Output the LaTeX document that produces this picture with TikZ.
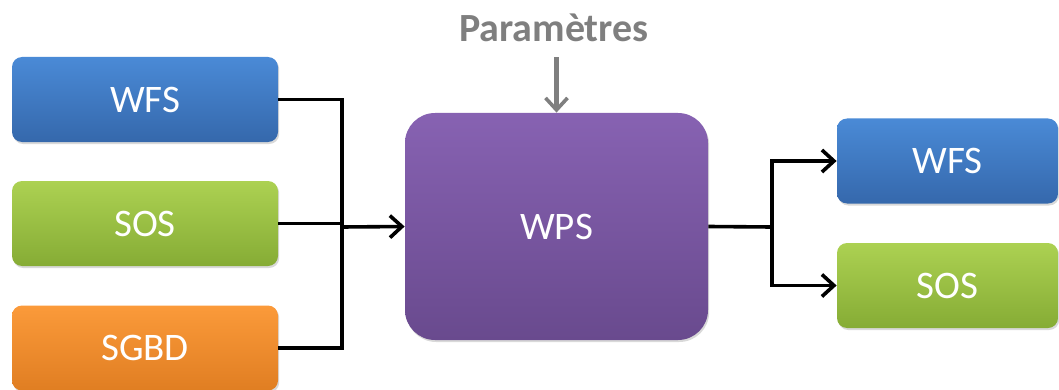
\documentclass[tikz,border=0pt]{standalone}
\usepackage{fontspec}
\setmainfont{Carlito}
\usepackage{tikz}
\usetikzlibrary{arrows.meta,shadows}
\definecolor{wfstop}{HTML}{4A8AD6}
\definecolor{wfsbot}{HTML}{3568AC}
\definecolor{sostop}{HTML}{ACD152}
\definecolor{sosbot}{HTML}{86AC35}
\definecolor{dbtop}{HTML}{FB9A3A}
\definecolor{dbbot}{HTML}{E07E22}
\definecolor{wpstop}{HTML}{8762B2}
\definecolor{wpsbot}{HTML}{694A8E}
\definecolor{paramgray}{HTML}{7F7F7F}
\tikzset{
  svc/.style={rounded corners=5pt, minimum width=133pt, minimum height=42.5pt,
    text=white, font=\fontsize{19.5}{23}\selectfont,
    drop shadow={shadow xshift=0.6pt, shadow yshift=-1pt, opacity=0.3}},
  wfsbox/.style={svc, top color=wfstop, bottom color=wfsbot},
  sosbox/.style={svc, top color=sostop, bottom color=sosbot},
  dbbox/.style={svc, top color=dbtop, bottom color=dbbot},
  flow/.style={line width=1.8pt, -{Straight Barb[length=6pt, width=11pt, line width=1.8pt]}},
  wire/.style={line width=1.8pt}
}

\begin{document}
\begin{tikzpicture}[x=0.5pt, y=-0.5pt]
  \useasboundingbox (0,0) rectangle (1059,390);
  % inputs
  \node [wfsbox] (WFSin) at (145, 99.5) {WFS};
  \node [sosbox] (SOSin) at (145, 223.5) {SOS};
  \node [dbbox] (SGBD) at (145, 348) {SGBD};
  % process
  \node [rounded corners=15pt, minimum width=151.5pt, minimum height=113.5pt,
         top color=wpstop, bottom color=wpsbot, text=white,
         font=\fontsize{19.5}{23}\selectfont,
         drop shadow={shadow xshift=0.6pt, shadow yshift=-1pt, opacity=0.3}]
        (WPS) at (556.5, 226.5) {WPS};
  \node [text=paramgray, font=\fontsize{20}{24}\selectfont\bfseries] (PAR) at (554, 28) {Paramètres};
  % outputs
  \node [wfsbox, minimum width=110.5pt] (WFSout) at (947.5, 161) {WFS};
  \node [sosbox, minimum width=110.5pt] (SOSout) at (947.5, 285.5) {SOS};
  \coordinate (JL) at (342, 227);
  \coordinate (JR) at (772, 227);
  \draw [wire] (WFSin.east) -| (JL);
  \draw [wire] (SGBD.east) -| (JL);
  \draw [wire] (SOSin.east) -- (SOSin.east -| JL);
  \draw [flow] (JL) -- (WPS.west);
  \draw [wire] (WPS.east) -- (JR);
  \draw [flow] (JR) |- (WFSout.west);
  \draw [flow] (JR) |- (SOSout.west);
  \draw [flow, line width=2.3pt, draw=paramgray, shorten <=4pt] (PAR.south -| WPS.north) -- (WPS.north);
\end{tikzpicture}
\end{document}
